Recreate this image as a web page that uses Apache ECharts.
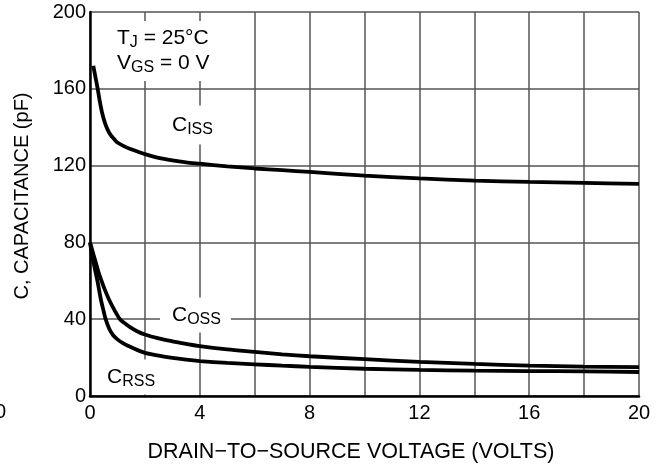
<!DOCTYPE html>
<html>
<head>
<meta charset="utf-8">
<script src="https://cdn.jsdelivr.net/npm/echarts@6/dist/echarts.min.js"></script>
<style>html,body{margin:0;padding:0;background:#fff}#c{width:666px;height:468px}</style>
</head>
<body>
<div id="c"></div>
<script>
// Data (V_DS in volts, capacitance in pF)
const xTicks = [0, 4, 8, 12, 16, 20];
const yTicks = [0, 40, 80, 120, 160, 200];
const ciss = [[0.12,172],[0.16,169],[0.2,166],[0.28,160],[0.35,154],[0.45,147],[0.55,142],[0.65,138.5],[0.75,136],[0.9,133.5],[1,132],[1.25,130],[1.5,128.5],[1.75,127.2],[2,126],[2.5,124],[3,122.7],[3.5,121.7],[4,121],[5,119.6],[6,118.5],[7,117.6],[8,116.7],[10,114.8],[12,113.3],[14,112.2],[16,111.5],[18,111],[20,110.5]];
const coss = [[0,80],[0.1,75],[0.2,70],[0.3,65],[0.42,60],[0.55,55],[0.7,50],[0.9,44.5],[1.09,40],[1.3,37.5],[1.5,35.5],[1.75,33.5],[2,32],[2.5,30],[3,28.5],[3.5,27.2],[4,26],[5,24.3],[6,23],[7,21.7],[8,20.7],[10,19.2],[12,17.8],[14,16.7],[16,15.8],[18,15.3],[20,15]];
const crss = [[0,80],[0.08,73],[0.15,68],[0.27,60],[0.4,50],[0.5,44],[0.57,40],[0.7,35],[0.85,31.5],[1,29.5],[1.2,27.5],[1.4,26],[1.6,24.7],[1.8,23.5],[2,22.5],[2.5,21],[3,19.8],[3.5,18.9],[4,18.2],[5,17.2],[6,16.5],[7,15.8],[8,15.2],[10,14.2],[12,13.6],[14,13.2],[16,13],[18,12.8],[20,12.5]];

const FONT = "'Liberation Sans', Arial, Helvetica, sans-serif";
const chart = echarts.init(document.getElementById('c'), null, {renderer: 'canvas'});

const rich = {
  m: {fontSize: 21, lineHeight: 25, fontFamily: FONT, color: '#000'},
  s: {fontSize: 16, lineHeight: 16, verticalAlign: 'bottom', fontFamily: FONT, color: '#000'}
};
function label(text, x, y, pad) {
  return {
    type: 'text', z: 100,
    style: {
      text: text, rich: rich, x: x, y: y,
      align: 'left', verticalAlign: 'middle',
      backgroundColor: '#fff', padding: pad
    }
  };
}

const line = (name, data) => ({
  name: name, type: 'line', data: data, showSymbol: false,
  smooth: 0.3,
  lineStyle: {color: '#000', width: 3.8}, z: 5
});

chart.setOption({
  animation: false,
  backgroundColor: '#fff',
  grid: {left: 90, right: 27, top: 12, bottom: 72, show: false},
  xAxis: {
    type: 'value', min: 0, max: 20, interval: 2,
    name: 'DRAIN\u2212TO\u2212SOURCE VOLTAGE (VOLTS)',
    nameLocation: 'middle', nameGap: 45,
    nameTextStyle: {fontSize: 21.5, fontFamily: FONT, color: '#000', padding: [0, 27, 0, 0]},
    axisLine: {show: true, lineStyle: {color: '#000', width: 2.5}},
    axisTick: {show: false},
    axisLabel: {fontSize: 20, fontFamily: FONT, color: '#000', margin: 7,
      formatter: v => xTicks.indexOf(v) >= 0 ? String(v) : ''},
    splitLine: {show: true, lineStyle: {color: '#555', width: 1.5}}
  },
  yAxis: {
    type: 'value', min: 0, max: 200, interval: 40,
    name: 'C, CAPACITANCE (pF)',
    nameLocation: 'middle', nameGap: 58,
    nameTextStyle: {fontSize: 20, fontFamily: FONT, color: '#000', padding: [0, 0, 0, 16]},
    axisLine: {show: true, lineStyle: {color: '#000', width: 2.5}},
    axisTick: {show: false},
    axisLabel: {fontSize: 20, fontFamily: FONT, color: '#000', margin: 4,
      formatter: v => yTicks.indexOf(v) >= 0 ? String(v) : ''},
    splitLine: {show: true, lineStyle: {color: '#555', width: 1.5}}
  },
  graphic: [
    label('{m|T}{s|J}{m| = 25\u00B0C}\n{m|V}{s|GS}{m| = 0 V}', 111, 51, [5, 6, 5, 6]),
    label('{m|C}{s|ISS}', 168, 125, [7, 4, 7, 4]),
    label('{m|C}{s|OSS}', 160, 315, [5, 10, 5, 12]),
    label('{m|C}{s|RSS}', 103, 377, [5, 4, 5, 4]),
    {type: 'text', style: {text: '0', x: -5, y: 412, align: 'left', verticalAlign: 'middle', font: '20px ' + FONT, fill: '#000'}}
  ],
  series: [line('CISS', ciss), line('COSS', coss), line('CRSS', crss)]
});
</script>
</body>
</html>
